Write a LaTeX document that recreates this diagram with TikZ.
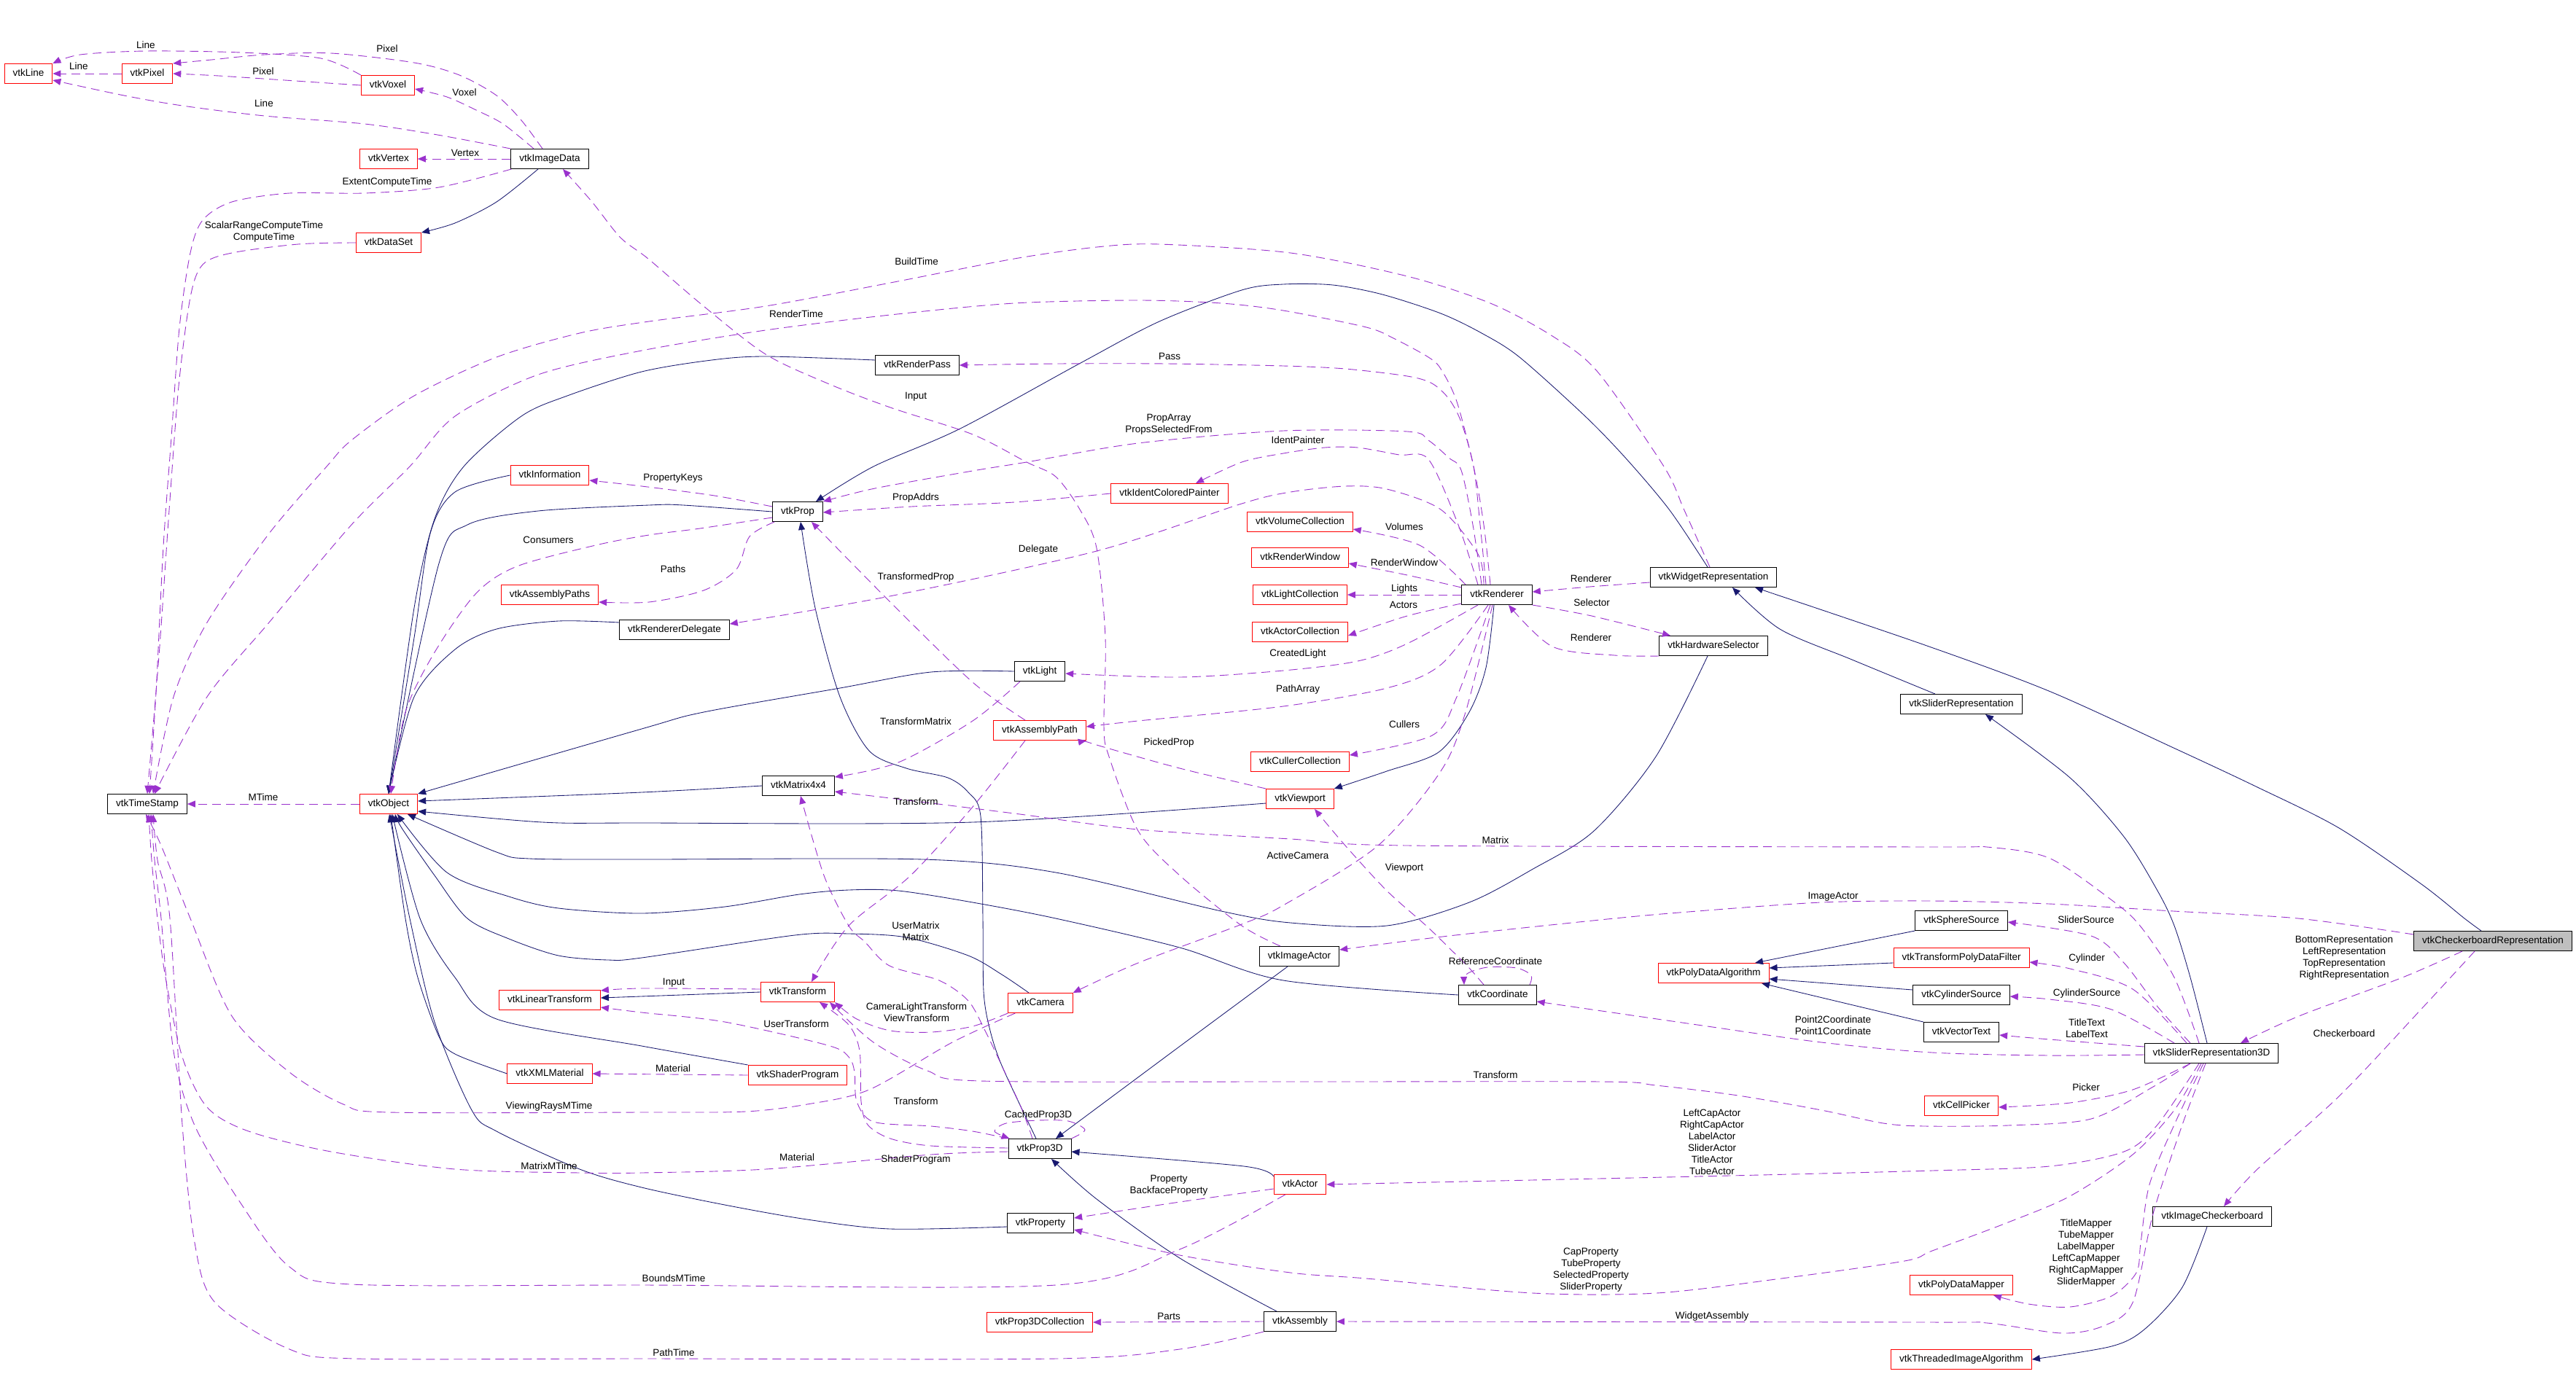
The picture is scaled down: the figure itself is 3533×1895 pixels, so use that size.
\documentclass[tikz,border=0pt]{standalone}
\usepackage{fontspec}
\setmainfont{Liberation Sans}
\usetikzlibrary{arrows.meta}
\definecolor{navyc}{HTML}{191970}
\definecolor{orchidc}{HTML}{9A32CD}
\definecolor{redb}{HTML}{FF0000}
\definecolor{grayf}{HTML}{BFBFBF}
\begin{document}
\begin{tikzpicture}[x=1pt,y=-1pt,
 cls/.style={draw=black, line width=1pt, font=\fontsize{13.5}{16}\selectfont, inner xsep=11.5pt, inner ysep=0pt, minimum height=27pt, text height=10pt, text depth=3pt, anchor=center},
 rcls/.style={cls, draw=redb},
 gcls/.style={cls, fill=grayf},
 uedge/.style={draw=orchidc, line width=0.9pt, dash pattern=on 12pt off 7pt, -{Triangle[length=11pt,width=9pt]}},
 iedge/.style={draw=navyc, line width=0.85pt, -{Triangle[length=11pt,width=9pt]}},
 lbl/.style={font=\fontsize{13.5}{16}\selectfont, align=center, inner sep=0pt}
]
\useasboundingbox (0,0) rectangle (3533,1895);
\fill[white] (0,0) rectangle (3533,1895);

% ---------------- nodes
\node[rcls] (nLine) at (39,101) {vtkLine};
\node[rcls] (nPixel) at (202,101) {vtkPixel};
\node[rcls] (nVoxel) at (532,117) {vtkVoxel};
\node[rcls] (nVertex) at (533,218) {vtkVertex};
\node[cls] (nImageData) at (754,218) {vtkImageData};
\node[rcls] (nDataSet) at (533,333) {vtkDataSet};
\node[rcls] (nInformation) at (754,652) {vtkInformation};
\node[rcls] (nAsmPaths) at (754,816) {vtkAssemblyPaths};
\node[cls] (nRDelegate) at (925,864) {vtkRendererDelegate};
\node[cls] (nTimeStamp) at (202,1103) {vtkTimeStamp};
\node[rcls] (nObject) at (533,1103) {vtkObject};
\node[cls] (nRenderPass) at (1258,501) {vtkRenderPass};
\node[cls] (nProp) at (1094,702) {vtkProp};
\node[rcls] (nIdent) at (1604,677) {vtkIdentColoredPainter};
\node[cls] (nLight) at (1426,921) {vtkLight};
\node[rcls] (nAsmPath) at (1426,1002) {vtkAssemblyPath};
\node[cls] (nMatrix) at (1095,1078) {vtkMatrix4x4};
\node[rcls] (nVolColl) at (1783,716) {vtkVolumeCollection};
\node[rcls] (nRWin) at (1783,765) {vtkRenderWindow};
\node[rcls] (nLightColl) at (1783,816) {vtkLightCollection};
\node[rcls] (nActorColl) at (1783,867) {vtkActorCollection};
\node[rcls] (nCullColl) at (1783,1045) {vtkCullerCollection};
\node[rcls] (nViewport) at (1783,1096) {vtkViewport};
\node[cls] (nRenderer) at (2053,816) {vtkRenderer};
\node[cls] (nWidgetRep) at (2350,792) {vtkWidgetRepresentation};
\node[cls] (nHWSel) at (2350,886) {vtkHardwareSelector};
\node[cls] (nSliderRep) at (2690,966) {vtkSliderRepresentation};
\node[rcls] (nTransform) at (1094,1361) {vtkTransform};
\node[rcls] (nLinTrans) at (754,1372) {vtkLinearTransform};
\node[rcls] (nCamera) at (1427,1376) {vtkCamera};
\node[cls] (nImageActor) at (1782,1312) {vtkImageActor};
\node[rcls] (nShader) at (1094,1475) {vtkShaderProgram};
\node[rcls] (nXMLMat) at (754,1473) {vtkXMLMaterial};
\node[cls] (nProp3D) at (1426,1576) {vtkProp3D};
\node[rcls] (nActor) at (1783,1625) {vtkActor};
\node[cls] (nProperty) at (1427,1678) {vtkProperty};
\node[rcls] (nP3DColl) at (1426,1814) {vtkProp3DCollection};
\node[cls] (nAssembly) at (1783,1813) {vtkAssembly};
\node[cls] (nCoord) at (2054,1365) {vtkCoordinate};
\node[rcls] (nPDAlg) at (2350,1335) {vtkPolyDataAlgorithm};
\node[cls] (nSphere) at (2690,1263) {vtkSphereSource};
\node[rcls] (nTPDF) at (2690,1314) {vtkTransformPolyDataFilter};
\node[cls] (nCylSrc) at (2690,1365) {vtkCylinderSource};
\node[cls] (nVecText) at (2690,1416) {vtkVectorText};
\node[rcls] (nCellPicker) at (2690,1517) {vtkCellPicker};
\node[rcls] (nPDMapper) at (2690,1763) {vtkPolyDataMapper};
\node[rcls] (nThreaded) at (2690,1865) {vtkThreadedImageAlgorithm};
\node[cls] (nSR3D) at (3033,1445) {vtkSliderRepresentation3D};
\node[cls] (nImgChk) at (3034,1669) {vtkImageCheckerboard};
\node[gcls] (nChkRep) at (3419,1291) {vtkCheckerboardRepresentation};

% ---------------- inheritance edges (navy)
\draw[iedge] plot[smooth] coordinates {([xshift=-16pt]nImageData.south) (681,277) (624,306) (nDataSet.north east)};
\draw[iedge] plot[smooth] coordinates {(nInformation.west) (624,675) (590,732) (568,875) (nObject.north)};
\draw[iedge] plot[smooth] coordinates {(nProp.west) (937,693) (890,693) (738,701) (641,720) (602,773) (nObject.north)};
\draw[iedge] plot[smooth] coordinates {([yshift=7pt]nRenderPass.west) (1050,489) (976,494) (880,510) (778,543) (715,571) (636,640) (596,712) (568,834) (nObject.north)};
\draw[iedge] plot[smooth] coordinates {([yshift=10pt]nRDelegate.west) (766,852) (681,863) (624,891) (568,956) (nObject.north)};
\draw[iedge] plot[smooth] coordinates {(nLight.west) (1277,922) (1152,944) (965,977) (880,1000) (nObject.north east)};
\draw[iedge] plot[smooth] coordinates {(nMatrix.west) (880,1087) ([yshift=4pt]nObject.east)};
\draw[iedge] plot[smooth] coordinates {([yshift=-6pt]nViewport.west) (1334,1128) (880,1129) (744,1128) ([yshift=-10pt]nObject.east)};
\draw[iedge] plot[smooth] coordinates {([xshift=-8pt]nHWSel.south) (2271,1038) (2186,1140) (2101,1193) (2015,1238) (1902,1270) (1770,1266) (1675,1250) (1448,1197) (1266,1179) (880,1179) (726,1178) (681,1169) ([xshift=26pt]nObject.south)};
\draw[iedge] plot[smooth] coordinates {(nCoord.west) (1760,1345) (1618,1300) (1448,1260) (1334,1238) (1232,1222) (1164,1221) (1096,1227) (994,1244) (880,1253) (766,1246) (698,1230) (613,1197) ([xshift=12pt]nObject.south)};
\draw[iedge] plot[smooth] coordinates {([xshift=-16pt]nCamera.north) (1374,1337) (1328,1311) (1243,1286) (1164,1281) (1090,1283) (880,1314) (834,1317) (766,1311) (698,1288) (641,1260) (596,1201) (551,1136) ([xshift=9pt]nObject.south)};
\draw[iedge] plot[smooth] coordinates {(nShader.north west) (880,1435) (681,1398) (624,1341) (576,1260) ([xshift=5pt]nObject.south)};
\draw[iedge] plot[smooth] coordinates {(nXMLMat.west) (624,1446) (602,1422) (573,1341) (556,1260) ([xshift=3pt]nObject.south)};
\draw[iedge] plot[smooth] coordinates {([yshift=-5pt]nProperty.west) (1221,1686) (1107,1673) (994,1653) (880,1629) (795,1604) (681,1552) (647,1523) (596,1402) (562,1260) ([xshift=1pt]nObject.south)};
\draw[iedge] (nTransform.west) -- ([yshift=3pt]nLinTrans.east);
\draw[iedge] plot[smooth] coordinates {([xshift=-8pt]nWidgetRep.north) (2290,700) (2231,630) (2174,571) (2084,490) (2032,457) (1976,430) (1896,404) (1828,391) (1760,390) (1703,398) (1590,441) (1482,498) (1317,588) (1198,640) ([xshift=25pt]nProp.north)};
\draw[iedge] plot[smooth] coordinates {([xshift=-5pt]nProp3D.north) (1374,1462) (1357,1410) (1349,1360) (1348,1260) (1345,1120) (1328,1087) (1300,1067) (1243,1054) (1192,1030) (1152,956) (1118,834) ([xshift=4pt]nProp.south)};
\draw[iedge] plot[smooth] coordinates {([xshift=-4pt]nRenderer.south) (2038,916) (2015,977) (1973,1032) (1902,1058) (nViewport.north east)};
\draw[iedge] plot[smooth] coordinates {([xshift=-36pt]nSliderRep.north) (2540,905) (2441,863) ([xshift=26pt]nWidgetRep.south)};
\draw[iedge] plot[smooth] coordinates {([xshift=-16pt]nChkRep.north) (3380,1260) (3321,1213) (3208,1136) (3094,1079) (2981,1026) (2810,948) (2640,885) ([xshift=57pt]nWidgetRep.south)};
\draw[iedge] plot[smooth] coordinates {([xshift=-6pt]nSR3D.north) (3004,1341) (2982,1270) (2959,1222) (2913,1148) (2839,1067) ([xshift=33pt]nSliderRep.south)};
\draw[iedge] (nSphere.south west) -- ([xshift=57pt]nPDAlg.north);
\draw[iedge] ([yshift=-7pt]nTPDF.west) -- ([yshift=7pt]nPDAlg.east);
\draw[iedge] ([yshift=7pt]nCylSrc.west) -- ([yshift=-8pt]nPDAlg.east);
\draw[iedge] (nVecText.north west) -- ([xshift=66pt]nPDAlg.south);
\draw[iedge] plot[smooth] coordinates {([xshift=-7pt]nImgChk.south) (2993,1766) (2942,1823) (2896,1847) (nThreaded.east)};
\draw[iedge] plot[smooth] coordinates {([xshift=-16pt]nImageActor.south) (1620,1434) ([xshift=22pt]nProp3D.north)};
\draw[iedge] plot[smooth] coordinates {([yshift=11pt]nActor.west) (1706,1600) ([yshift=-4pt]nProp3D.east)};
\draw[iedge] plot[smooth] coordinates {([xshift=-32pt]nAssembly.north) (1618,1726) (1504,1645) ([xshift=16pt]nProp3D.south)};

% ---------------- usage edges (purple dashed)
\draw[uedge] (nPixel.west) -- (nLine.east);
\draw[uedge] plot[smooth] coordinates {(nVoxel.north west) (440,80) (330,72) (200,70) (110,75) (nLine.north east)};
\draw[uedge] plot[smooth] coordinates {(nVoxel.west) (420,112) (300,104) (nPixel.east)};
\draw[uedge] plot[smooth] coordinates {([xshift=-22pt]nImageData.north) (690,170) (653,151) (613,133) ([yshift=-5pt]nVoxel.east)};
\draw[uedge] plot[smooth] coordinates {(nImageData.north west) (600,185) (500,170) (363,159) (250,145) (170,131) ([yshift=-9pt]nLine.east)};
\draw[uedge] plot[smooth] coordinates {([xshift=-10pt]nImageData.north) (715,165) (681,131) (630,103) (568,86) (454,73) (363,75) (290,82) (nPixel.north east)};
\draw[uedge] (nImageData.west) -- (nVertex.east);
\draw[uedge] plot[smooth] coordinates {([xshift=1pt]nImageData.south west) (602,257) (500,265) (397,265) (318,277) (278,302) (261,347) (246,450) (235,600) (224,750) (214,950) ([xshift=3pt]nTimeStamp.north)};
\draw[uedge] plot[smooth] coordinates {(nDataSet.west) (409,335) (318,347) (278,363) (261,408) (245,530) (232,700) (218,900) (nTimeStamp.north)};
\draw[uedge] plot[smooth] coordinates {([xshift=-5pt]nWidgetRep.north) (2310,700) (2282,640) (2191,510) (2129,461) (2044,416) (1930,379) (1770,347) (1589,335) (1504,339) (1391,355) (1221,388) (1050,420) (890,441) (795,457) (681,490) (568,543) (482,604) (448,640) (369,732) (284,854) (238,956) ([xshift=8pt]nTimeStamp.north)};
\draw[uedge] plot[smooth] coordinates {([xshift=-9pt]nRenderer.north) (2035,720) (2021,640) (1998,551) (1976,506) (1959,490) (1913,465) (1874,449) (1760,426) (1675,416) (1561,412) (1391,416) (1221,432) (1050,453) (880,481) (738,514) (624,571) (562,640) (482,720) (369,854) (284,956) ([xshift=10pt]nTimeStamp.north)};
\draw[uedge] plot[smooth] coordinates {([xshift=-15pt]nRenderer.north) (2030,720) (2021,640) (2004,579) (1987,547) (1964,526) (1930,516) (1845,506) (1760,502) (1600,499) (1450,499) (nRenderPass.east)};
\draw[uedge] plot[smooth] coordinates {([xshift=-21pt]nRenderer.north) (2020,720) (2004,645) (1987,628) (1959,604) (1930,592) (1760,591) (1561,608) (1408,634) (1334,646) (1200,670) (nProp.north east)};
\draw[uedge] plot[smooth] coordinates {([xshift=-26pt]nRenderer.north) (2000,720) (1959,630) (1919,624) (1862,614) (1817,614) (1760,622) (1703,634) ([xshift=36pt]nIdent.north)};
\draw[uedge] plot[smooth] coordinates {([yshift=7pt]nProp.west) (980,680) (880,667) ([yshift=-7pt]nInformation.east)};
\draw[uedge] plot[smooth] coordinates {(nIdent.west) (1391,689) (1250,695) ([yshift=-1pt]nProp.east)};
\draw[uedge] (nObject.west) -- (nTimeStamp.east);
\draw[uedge] plot[smooth] coordinates {([yshift=-8pt]nProp.west) (960,725) (890,734) (817,748) (709,777) (653,814) (596,895) (556,977) ([xshift=3pt]nObject.north)};
\draw[uedge] plot[smooth] coordinates {([xshift=3pt]nProp.south west) (1028,736) (1010,781) (965,810) (890,826) ([yshift=-10pt]nAsmPaths.east)};
\draw[uedge] plot[smooth] coordinates {([xshift=-18pt]nRenderer.north) (2027,760) (1976,699) (1902,671) (1845,667) (1770,675) (1703,691) (1504,756) (1220,818) ([yshift=8pt]nRDelegate.east)};
\draw[uedge] plot[smooth] coordinates {([xshift=-20pt]nAsmPath.north) (1334,936) (1221,826) ([xshift=19pt]nProp.south)};
\draw[uedge] plot[smooth] coordinates {([xshift=-43pt]nRenderer.north) (1947,748) ([yshift=-10pt]nVolColl.east)};
\draw[uedge] plot[smooth] coordinates {([yshift=10pt]nRenderer.west) (1930,789) ([yshift=-8pt]nRWin.east)};
\draw[uedge] (nRenderer.west) -- (nLightColl.east);
\draw[uedge] plot[smooth] coordinates {([yshift=-12pt]nRenderer.west) (1930,845) ([yshift=-5pt]nActorColl.east)};
\draw[uedge] plot[smooth] coordinates {([xshift=-26pt]nRenderer.south) (1930,883) (1862,907) (1760,920) (1618,929) ([yshift=-3pt]nLight.east)};
\draw[uedge] plot[smooth] coordinates {([xshift=-12pt]nRenderer.south) (1976,912) (1902,944) (1760,969) (1561,989) ([yshift=5pt]nAsmPath.east)};
\draw[uedge] plot[smooth] coordinates {([xshift=-9pt]nRenderer.south) (1998,956) (1964,1009) ([yshift=9pt]nCullColl.east)};
\draw[uedge] plot[smooth] coordinates {([xshift=-6pt]nRenderer.south) (2010,977) (1976,1058) (1890,1160) (1760,1242) (1703,1268) (1561,1321) (nCamera.north east)};
\draw[uedge] plot[smooth] coordinates {([xshift=-27pt]nLight.south) (1334,989) (1232,1046) ([yshift=12pt]nMatrix.east)};
\draw[uedge] plot[smooth] coordinates {(nViewport.north west) (1618,1054) (1504,1022) (nAsmPath.south east)};
\draw[uedge] plot[smooth] coordinates {([xshift=-17pt]nSR3D.north) (2982,1341) (2935,1270) (2895,1234) (2810,1177) (2725,1162) (2650,1162) (1930,1160) (1770,1151) (1561,1138) (1391,1116) (1221,1095) ([yshift=-8pt]nMatrix.east)};
\draw[uedge] plot[smooth] coordinates {([xshift=-20pt]nAsmPath.south) (1334,1107) (1249,1201) (1164,1270) ([xshift=19pt]nTransform.north)};
\draw[uedge] plot[smooth] coordinates {([xshift=-10pt]nProp3D.north) (1402,1523) (1374,1462) (1351,1414) (1328,1373) (1288,1345) (1220,1325) (1186,1292) (1164,1270) (1130,1201) ([xshift=3pt]nMatrix.south)};
\draw[uedge] plot[smooth] coordinates {([yshift=4pt]nTransform.west) (880,1356) ([yshift=13pt]nLinTrans.east)};
\draw[uedge] plot[smooth] coordinates {(nProp3D.north west) (1334,1552) (1277,1545) (1198,1539) (1175,1511) (1172,1471) (1164,1450) (1135,1434) (994,1402) (880,1389) ([yshift=-10pt]nLinTrans.east)};
\draw[uedge] plot[smooth] coordinates {([yshift=1pt]nProp3D.west) (1277,1572) (1221,1562) (1190,1543) (1181,1511) (1179,1442) (1164,1406) ([xshift=30pt]nTransform.south)};
\draw[uedge] plot[smooth] coordinates {(nCamera.south west) (1334,1408) (1277,1416) (1221,1414) (1175,1398) (nTransform.south east)};
\draw[uedge] plot[smooth] coordinates {([xshift=-29pt]nSR3D.south) (2953,1491) (2868,1535) (2754,1544) (2640,1545) (2583,1541) (2498,1523) (2384,1503) (2271,1489) (2197,1484) (1770,1484) (1345,1483) (1272,1469) (1198,1430) ([xshift=44pt]nTransform.south)};
\draw[uedge] (nShader.west) -- (nXMLMat.east);
\draw[uedge] plot[smooth] coordinates {([xshift=10pt]nCamera.south west) (1306,1430) (1192,1495) (1107,1515) (1022,1525) (880,1526) (534,1526) (471,1515) (397,1471) (318,1394) (261,1260) (221,1160) ([xshift=-2pt]nTimeStamp.south)};
\draw[uedge] plot[smooth] coordinates {([yshift=-4pt]nProp3D.west) (1277,1584) (1050,1604) (880,1609) (795,1609) (624,1604) (454,1580) (341,1552) (284,1519) (250,1450) (227,1341) (216,1260) (208,1180) ([xshift=2pt]nTimeStamp.south)};
\draw[uedge] plot[smooth] coordinates {([xshift=16pt]nActor.south west) (1618,1714) (1448,1763) (880,1763) (482,1762) (397,1738) (329,1649) (267,1544) (238,1442) (221,1260) (212,1180) ([xshift=5pt]nTimeStamp.south)};
\draw[uedge] plot[smooth] coordinates {(nAssembly.south west) (1618,1851) (1448,1864) (880,1864) (488,1864) (397,1851) (295,1787) (267,1705) (250,1543) (233,1260) (216,1180) ([xshift=8pt]nTimeStamp.south)};
\draw[uedge] plot[smooth] coordinates {([yshift=-6pt]nActor.west) (1618,1649) ([yshift=7pt]nProperty.east)};
\draw[uedge] (nAssembly.west) -- (nP3DColl.east);
\draw[uedge] plot[smooth] coordinates {([xshift=-19pt]nCoord.north) (2015,1328) (1987,1300) (1956,1270) (1902,1222) (1845,1160) ([xshift=20pt]nViewport.south)};
\draw[uedge] plot[smooth] coordinates {([xshift=44pt]nCoord.north) (2100,1338) (2080,1328) (2040,1327) (2012,1336) ([xshift=-46pt]nCoord.north)};
\draw[uedge] plot[smooth] coordinates {([yshift=-7pt]nWidgetRep.west) (2180,805) ([yshift=4pt]nRenderer.east)};
\draw[uedge] plot[smooth] coordinates {(nRenderer.south east) (2183,845) ([xshift=-59pt]nHWSel.north)};
\draw[uedge] plot[smooth] coordinates {(nHWSel.south west) (2214,899) (2129,887) ([xshift=16pt]nRenderer.south)};
\draw[uedge] plot[smooth] coordinates {([yshift=9pt]nChkRep.west) (3152,1260) (2981,1250) (2810,1240) (2650,1236) (2498,1238) (2328,1250) (2214,1260) (1987,1284) ([yshift=9pt]nImageActor.east)};
\draw[uedge] plot[smooth] coordinates {([xshift=-26pt]nImageActor.north) (1703,1270) (1618,1201) (1561,1140) (1521,1038) (1514,997) (1516,875) (1504,752) (1481,699) (1448,654) (1408,634) (1334,596) (1221,559) (1135,526) (1050,486) (965,420) (889,355) (851,326) (812,277) ([xshift=18pt]nImageData.south)};
\draw[uedge] plot[smooth] coordinates {([xshift=-29pt]nSR3D.north) (2959,1381) (2913,1321) (2868,1284) ([yshift=-2pt]nSphere.east)};
\draw[uedge] plot[smooth] coordinates {([xshift=-34pt]nSR3D.north) (2925,1357) (2839,1329) ([yshift=-6pt]nTPDF.east)};
\draw[uedge] plot[smooth] coordinates {([xshift=-51pt]nSR3D.north) (2896,1385) (2811,1371) ([yshift=-2pt]nCylSrc.east)};
\draw[uedge] plot[smooth] coordinates {([yshift=9pt]nSR3D.west) (2811,1426) ([yshift=-4pt]nVecText.east)};
\draw[uedge] plot[smooth] coordinates {([yshift=-2pt]nSR3D.west) (2811,1448) (2650,1444) (2498,1430) (2328,1406) ([yshift=-9pt]nCoord.east)};
\draw[uedge] plot[smooth] coordinates {([xshift=-29pt]nSR3D.south) (2925,1495) (2839,1513) ([yshift=-2pt]nCellPicker.east)};
\draw[uedge] plot[smooth] coordinates {([xshift=-17pt]nSR3D.south) (2959,1543) (2913,1580) (2811,1600) (2650,1606) (2328,1614) (nActor.east)};
\draw[uedge] plot[smooth] coordinates {([xshift=-14pt]nSR3D.south) (2982,1523) (2925,1584) (2839,1641) (2754,1677) (2650,1716) (2612,1730) (2443,1754) (2272,1774) (2102,1774) (1874,1754) (1770,1746) (1618,1722) ([yshift=-9pt]nProperty.east)};
\draw[uedge] plot[smooth] coordinates {([xshift=-11pt]nSR3D.south) (2982,1543) (2948,1625) (2936,1705) (2930,1746) (2896,1778) (2839,1793) (2782,1789) ([xshift=44pt]nPDMapper.south)};
\draw[uedge] plot[smooth] coordinates {([xshift=-8pt]nSR3D.south) (2993,1543) (2953,1665) (2925,1787) (2885,1819) (2828,1829) (2725,1815) (2640,1814) (nAssembly.east)};
\draw[uedge] plot[smooth] coordinates {([xshift=-42pt]nChkRep.south) (3295,1341) (3153,1394) ([xshift=40pt]nSR3D.north)};
\draw[uedge] plot[smooth] coordinates {([xshift=-25pt]nChkRep.south) (3323,1382) (3209,1503) (3096,1604) ([xshift=16pt]nImgChk.north)};
\draw[uedge] plot[smooth] coordinates {(nProp3D.north east) (1488,1550) (1465,1538) (1424,1537) (1380,1541) (1364,1552) ([xshift=2pt]nProp3D.north west)};

% ---------------- labels
\node[lbl] (l01) at (200,62) {Line};
\node[lbl] (l02) at (531,67) {Pixel};
\node[lbl] (l03) at (108,91) {Line};
\node[lbl] (l04) at (361,98) {Pixel};
\node[lbl] (l05) at (637,127) {Voxel};
\node[lbl] (l06) at (362,142) {Line};
\node[lbl] (l07) at (638,210) {Vertex};
\node[lbl] (l08) at (531,250) {ExtentComputeTime};
\node[lbl] (l09) at (362,318) {ScalarRangeComputeTime\\ComputeTime};
\node[lbl] (l10) at (1257,359) {BuildTime};
\node[lbl] (l11) at (1092,431) {RenderTime};
\node[lbl] (l12) at (1604,489) {Pass};
\node[lbl] (l13) at (1256,544) {Input};
\node[lbl] (l14) at (1603,582) {PropArray\\PropsSelectedFrom};
\node[lbl] (l15) at (1780,604) {IdentPainter};
\node[lbl] (l16) at (923,656) {PropertyKeys};
\node[lbl] (l17) at (1256,683) {PropAddrs};
\node[lbl] (l18) at (752,741) {Consumers};
\node[lbl] (l19) at (1424,754) {Delegate};
\node[lbl] (l20) at (923,781) {Paths};
\node[lbl] (l21) at (1256,792) {TransformedProp};
\node[lbl] (l22) at (1926,723) {Volumes};
\node[lbl] (l23) at (1926,772) {RenderWindow};
\node[lbl] (l24) at (1926,808) {Lights};
\node[lbl] (l25) at (1925,830) {Actors};
\node[lbl] (l26) at (1780,897) {CreatedLight};
\node[lbl] (l27) at (1780,946) {PathArray};
\node[lbl] (l28) at (1926,994) {Cullers};
\node[lbl] (l29) at (1256,990) {TransformMatrix};
\node[lbl] (l30) at (1603,1019) {PickedProp};
\node[lbl] (l31) at (361,1094) {MTime};
\node[lbl] (l32) at (1256,1100) {Transform};
\node[lbl] (l33) at (2051,1153) {Matrix};
\node[lbl] (l34) at (1780,1174) {ActiveCamera};
\node[lbl] (l35) at (1926,1191) {Viewport};
\node[lbl] (l36) at (2514,1230) {ImageActor};
\node[lbl] (l37) at (1256,1278) {UserMatrix\\Matrix};
\node[lbl] (l38) at (2051,1319) {ReferenceCoordinate};
\node[lbl] (l39) at (924,1348) {Input};
\node[lbl] (l40) at (1257,1389) {CameraLightTransform\\ViewTransform};
\node[lbl] (l41) at (1092,1405) {UserTransform};
\node[lbl] (l42) at (2514,1407) {Point2Coordinate\\Point1Coordinate};
\node[lbl] (l43) at (923,1466) {Material};
\node[lbl] (l44) at (2051,1475) {Transform};
\node[lbl] (l45) at (1256,1511) {Transform};
\node[lbl] (l46) at (753,1518) {ViewingRaysMTime};
\node[lbl] (l47) at (1424,1530) {CachedProp3D};
\node[lbl] (l48) at (1093,1588) {Material};
\node[lbl] (l49) at (1256,1591) {ShaderProgram};
\node[lbl] (l50) at (753,1600) {MatrixMTime};
\node[lbl] (l51) at (1603,1626) {Property\\BackfaceProperty};
\node[lbl] (l52) at (2348,1567) {LeftCapActor\\RightCapActor\\LabelActor\\SliderActor\\TitleActor\\TubeActor};
\node[lbl] (l53) at (2182,1742) {CapProperty\\TubeProperty\\SelectedProperty\\SliderProperty};
\node[lbl] (l54) at (924,1754) {BoundsMTime};
\node[lbl] (l55) at (1603,1806) {Parts};
\node[lbl] (l56) at (2348,1806) {WidgetAssembly};
\node[lbl] (l57) at (924,1856) {PathTime};
\node[lbl] (l58) at (2182,794) {Renderer};
\node[lbl] (l59) at (2183,827) {Selector};
\node[lbl] (l60) at (2182,875) {Renderer};
\node[lbl] (l61) at (2861,1262) {SliderSource};
\node[lbl] (l62) at (2862,1315) {Cylinder};
\node[lbl] (l63) at (2862,1363) {CylinderSource};
\node[lbl] (l64) at (2862,1411) {TitleText\\LabelText};
\node[lbl] (l65) at (2861,1492) {Picker};
\node[lbl] (l66) at (2861,1719) {TitleMapper\\TubeMapper\\LabelMapper\\LeftCapMapper\\RightCapMapper\\SliderMapper};
\node[lbl] (l67) at (3215,1314) {BottomRepresentation\\LeftRepresentation\\TopRepresentation\\RightRepresentation};
\node[lbl] (l68) at (3215,1418) {Checkerboard};
\end{tikzpicture}
\end{document}
